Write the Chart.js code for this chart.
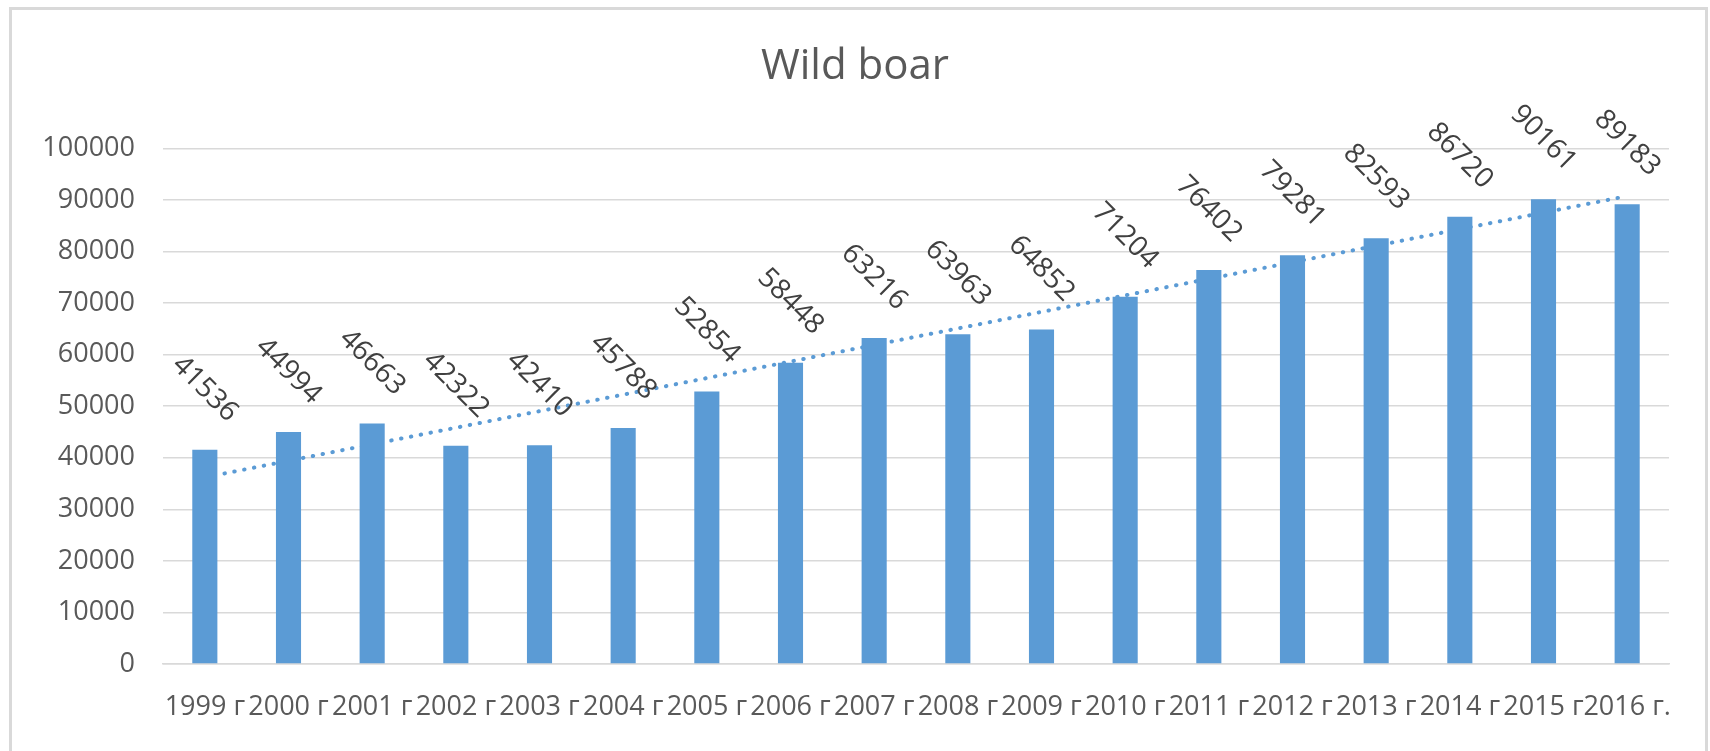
<!DOCTYPE html>
<html>
<head>
<meta charset="utf-8">
<script src="https://cdn.jsdelivr.net/npm/chart.js@4.4.1/dist/chart.umd.min.js"></script>
<style>
  html, body { margin: 0; padding: 0; background: #fff; overflow: hidden; }
  #frame {
    position: absolute; left: 9px; top: 7px;
    width: 1699px; height: 800px;
    border: 3px solid #D9D9D9; box-sizing: border-box;
  }
  #boarChart { position: absolute; left: 0; top: 0; }
</style>
</head>
<body>
<div id="frame"></div>
<canvas id="boarChart" width="1710" height="751"></canvas>
<script>
// --- Данные ---
// подписи как на картинке: точка видна только у последнего года
const years = ['1999 г', '2000 г', '2001 г', '2002 г', '2003 г', '2004 г', '2005 г', '2006 г', '2007 г',
               '2008 г', '2009 г', '2010 г', '2011 г', '2012 г', '2013 г', '2014 г', '2015 г', '2016 г.'];
const boarCount = [41536, 44994, 46663, 42322, 42410, 45788, 52854, 58448, 63216,
                   63963, 64852, 71204, 76402, 79281, 82593, 86720, 90161, 89183];
// линия тренда (концы)
const trendYears = ['1999 г', '2016 г.'];
const trendValues = [36200, 90750];
const yTicks = [0, 10000, 20000, 30000, 40000, 50000, 60000, 70000, 80000, 90000, 100000];

const BLUE = '#5B9BD5';
const FONT = '"Open Sans", "Liberation Sans", sans-serif';

// --- Подписи значений, повернутые на 45° ---
const valueLabels = {
  id: 'valueLabels',
  afterDatasetsDraw(chart) {
    const meta = chart.getDatasetMeta(0);
    const c = chart.ctx;
    c.save();
    c.font = '28px ' + FONT;
    c.fillStyle = '#404040';
    c.textAlign = 'center';
    c.textBaseline = 'middle';
    meta.data.forEach((bar, i) => {
      c.save();
      c.translate(bar.x, bar.y - 61);
      c.rotate(Math.PI / 4);
      c.fillText(String(boarCount[i]), 0, 0);
      c.restore();
    });
    c.restore();
  }
};

const ctx = document.getElementById('boarChart').getContext('2d');

const boarChart = new Chart(ctx, {
  data: {
    labels: years,
    datasets: [{
      type: 'bar',
      data: boarCount,
      backgroundColor: BLUE,
      barPercentage: 0.3,
      categoryPercentage: 1,
      order: 0
    }, {
      type: 'line',
      data: trendYears.map((y, i) => ({ x: y, y: trendValues[i] })),
      borderColor: BLUE,
      borderWidth: 4,
      borderDash: [0.5, 9.5],
      borderCapStyle: 'round',
      pointRadius: 0,
      fill: false,
      order: 1
    }]
  },
  options: {
    responsive: false,
    animation: false,
    layout: { padding: 0 },
    scales: {
      x: {
        offset: true,
        grid: { display: false, drawTicks: false },
        border: { display: true, color: '#D9D9D9', width: 1.5 },
        ticks: {
          autoSkip: false, maxRotation: 0, minRotation: 0,
          padding: 27,
          color: '#595959',
          font: { family: FONT, size: 27 }
        },
        afterFit(scale) { scale.height = 87; }
      },
      y: {
        min: 0,
        max: 100000,
        afterBuildTicks(scale) { scale.ticks = yTicks.map(v => ({ value: v })); },
        grid: { color: '#D9D9D9', lineWidth: 1.5, drawTicks: false },
        border: { display: false },
        ticks: {
          padding: 28,
          color: '#595959',
          font: { family: FONT, size: 27 },
          callback: v => String(v)
        },
        afterFit(scale) { scale.width = 163; }
      },
      // пустая ось справа — только отступ, чтобы заголовок был по центру всей рамки
      yRight: {
        position: 'right',
        min: 0,
        max: 100000,
        grid: { display: false, drawTicks: false },
        border: { display: false },
        ticks: { display: false },
        afterFit(scale) { scale.width = 41; }
      }
    },
    plugins: {
      legend: { display: false },
      tooltip: { enabled: false },
      title: {
        display: true,
        text: 'Wild boar',
        color: '#595959',
        font: { family: FONT, size: 42, weight: 'normal' },
        padding: { top: 42, bottom: 56 }
      }
    }
  },
  plugins: [valueLabels]
});
</script>
</body>
</html>
